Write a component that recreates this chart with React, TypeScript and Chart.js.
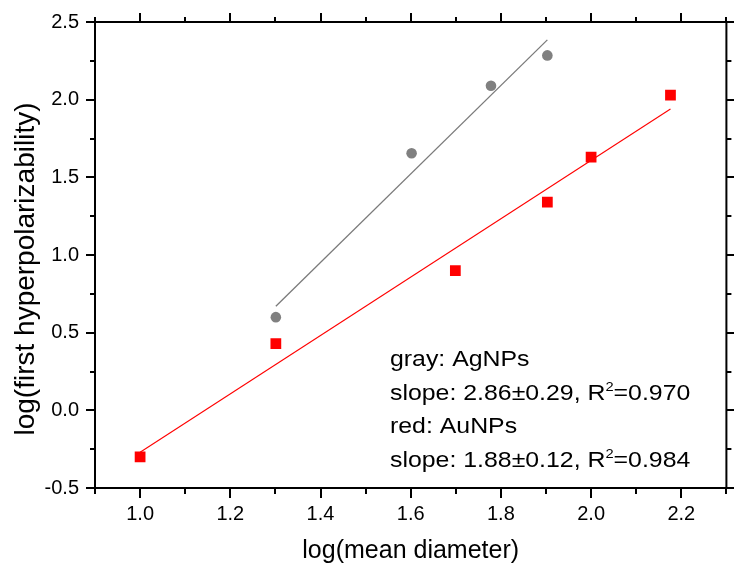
import React, { useEffect, useRef } from "react";
import { Chart, registerables } from "chart.js";

Chart.register(...registerables);

// ---- data ----
const agX = [1.301, 1.602, 1.778, 1.903];
const agY = [0.6, 1.655, 2.09, 2.285];
const auX = [1.0, 1.301, 1.699, 1.903, 2.0, 2.176];
const auY = [-0.3, 0.43, 0.9, 1.34, 1.63, 2.03];
const agFitX = [1.301, 1.903];
const agFitY = [0.67, 2.385];
const auFitX = [1.0, 2.176];
const auFitY = [-0.27, 1.94];

const xMajorTicks = [1.0, 1.2, 1.4, 1.6, 1.8, 2.0, 2.2];
const xMinorTicks = [0.9, 1.1, 1.3, 1.5, 1.7, 1.9, 2.1, 2.3];
const yMajorTicks = [-0.5, 0.0, 0.5, 1.0, 1.5, 2.0, 2.5];
const yMinorTicks = [-0.25, 0.25, 0.75, 1.25, 1.75, 2.25];

const xTitle = "log(mean diameter)";
const yTitle = "log(first hyperpolarizability)";
const noteLines = [
  [{ t: "gray: AgNPs" }],
  [{ t: "slope: 2.86±0.29, R" }, { t: "2", sup: true }, { t: "=0.970" }],
  [{ t: "red: AuNPs" }],
  [{ t: "slope: 1.88±0.12, R" }, { t: "2", sup: true }, { t: "=0.984" }],
];

const FONT = '"Liberation Sans", Arial, sans-serif';

const toPts = (xs: number[], ys: number[]) => xs.map((x, i) => ({ x, y: ys[i] }));

const framePlugin = {
  id: "frameAndText",
  afterDraw(chart: any) {
    const ctx = chart.ctx as CanvasRenderingContext2D;
    const ca = chart.chartArea;
    const xs = chart.scales.x;
    const ys = chart.scales.y;
    ctx.save();
    ctx.strokeStyle = "#000";
    ctx.lineWidth = 2;
    ctx.strokeRect(ca.left, ca.top, ca.right - ca.left, ca.bottom - ca.top);
    ctx.beginPath();
    const xt = (vals: number[], lb: number, lt: number) => {
      vals.forEach((v) => {
        const px = Math.round(xs.getPixelForValue(v));
        ctx.moveTo(px, ca.bottom);
        ctx.lineTo(px, ca.bottom + lb);
        ctx.moveTo(px, ca.top);
        ctx.lineTo(px, ca.top - lt);
      });
    };
    const yt = (vals: number[], len: number) => {
      vals.forEach((v) => {
        const py = Math.round(ys.getPixelForValue(v));
        ctx.moveTo(ca.left, py);
        ctx.lineTo(ca.left - len, py);
        ctx.moveTo(ca.right, py);
        ctx.lineTo(ca.right + len, py);
      });
    };
    xt(xMajorTicks, 10, 9);
    xt(xMinorTicks, 6, 5);
    yt(yMajorTicks, 9);
    yt(yMinorTicks, 5);
    ctx.stroke();

    // axis titles
    ctx.fillStyle = "#000";
    ctx.textBaseline = "alphabetic";
    ctx.textAlign = "center";
    ctx.font = `25px ${FONT}`;
    ctx.fillText(xTitle, (ca.left + ca.right) / 2, 558);
    ctx.save();
    ctx.translate(34, 269);
    ctx.rotate(-Math.PI / 2);
    ctx.font = `28px ${FONT}`;
    ctx.fillText(yTitle, 0, 0);
    ctx.restore();

    // note
    ctx.textAlign = "left";
    const baselines = [366, 400, 433, 467];
    noteLines.forEach((parts, i) => {
      ctx.save();
      ctx.translate(390, baselines[i]);
      ctx.scale(1.13, 1);
      let cx = 0;
      parts.forEach((p: any) => {
        ctx.font = p.sup ? `13px ${FONT}` : `22px ${FONT}`;
        ctx.fillText(p.t, cx, p.sup ? -9 : 0);
        cx += ctx.measureText(p.t).width;
      });
      ctx.restore();
    });
    ctx.restore();
  },
};

export default function App() {
  const ref = useRef<HTMLCanvasElement | null>(null);
  useEffect(() => {
    if (!ref.current) return;
    const chart = new Chart(ref.current, {
      type: "scatter",
      data: {
        datasets: [
          {
            label: "AgNPs fit",
            data: toPts(agFitX, agFitY),
            showLine: true,
            borderColor: "#7a7a7a",
            borderWidth: 1.3,
            pointRadius: 0,
            order: 3,
          },
          {
            label: "AuNPs fit",
            data: toPts(auFitX, auFitY),
            showLine: true,
            borderColor: "#ff0000",
            borderWidth: 1.1,
            pointRadius: 0,
            order: 4,
          },
          {
            label: "AgNPs",
            data: toPts(agX, agY),
            pointStyle: "circle",
            pointRadius: 5.3,
            pointBackgroundColor: "#808080",
            pointBorderWidth: 0,
            backgroundColor: "#808080",
            borderColor: "#808080",
            order: 1,
          },
          {
            label: "AuNPs",
            data: toPts(auX, auY),
            pointStyle: "rect",
            pointRadius: 7.6,
            pointBackgroundColor: "#ff0000",
            pointBorderWidth: 0,
            backgroundColor: "#ff0000",
            borderColor: "#ff0000",
            order: 2,
          },
        ],
      },
      options: {
        animation: false,
        responsive: false,
        devicePixelRatio: 1,
        layout: { padding: { top: 22, right: 3, left: 0, bottom: 0 } },
        plugins: {
          legend: { display: false },
          tooltip: { enabled: false },
        },
        scales: {
          x: {
            type: "linear",
            min: 0.9,
            max: 2.3,
            grid: { display: false, drawTicks: true, tickLength: 10 },
            border: { display: false },
            ticks: {
              color: "#000",
              font: { family: FONT, size: 20 },
              padding: 4,
              maxRotation: 0,
              autoSkip: false,
              callback: (v: any) => Number(v).toFixed(1),
            },
            afterBuildTicks: (s: any) => {
              s.ticks = xMajorTicks.map((v) => ({ value: v }));
            },
            afterFit: (s: any) => {
              s.height = 78;
            },
          },
          y: {
            type: "linear",
            min: -0.5,
            max: 2.5,
            grid: { display: false, drawTicks: true, tickLength: 9 },
            border: { display: false },
            ticks: {
              color: "#000",
              font: { family: FONT, size: 20 },
              padding: 7,
              autoSkip: false,
              callback: (v: any) => Number(v).toFixed(1),
            },
            afterBuildTicks: (s: any) => {
              s.ticks = yMajorTicks.map((v) => ({ value: v }));
            },
            afterFit: (s: any) => {
              s.width = 95;
            },
          },
        },
      },
      plugins: [framePlugin],
    });
    return () => chart.destroy();
  }, []);
  return (
    <div style={{ position: "fixed", left: 0, top: 0, width: 734, height: 566, background: "#fff" }}>
      <canvas ref={ref} width={734} height={566} style={{ display: "block" }} />
    </div>
  );
}
